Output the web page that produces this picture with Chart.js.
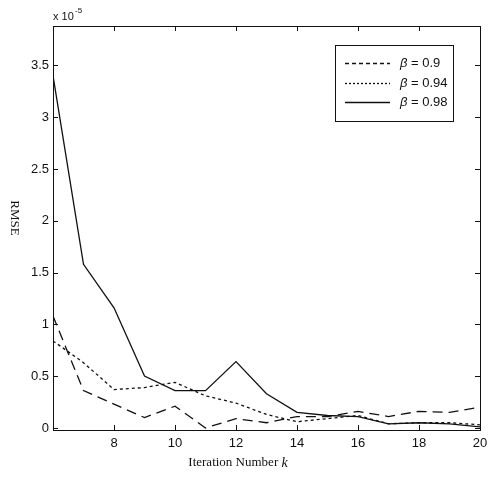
<!DOCTYPE html>
<html>
<head>
<meta charset="utf-8">
<script src="https://cdn.jsdelivr.net/npm/chart.js@4/dist/chart.umd.min.js"></script>
<style>
  html, body { margin: 0; padding: 0; background: #fff; }
  #wrap { width: 488px; height: 479px; position: relative; }
</style>
</head>
<body>
<div id="wrap"><canvas id="c"></canvas></div>
<script>
// iteration index k
const iterations = [6, 7, 8, 9, 10, 11, 12, 13, 14, 15, 16, 17, 18, 19, 20];
// RMSE in units of 1e-5
const rmseBeta090 = [1.08, 0.36, 0.23, 0.10, 0.21, 0.00, 0.09, 0.05, 0.11, 0.11, 0.16, 0.11, 0.16, 0.15, 0.20];
const rmseBeta094 = [0.84, 0.63, 0.37, 0.39, 0.44, 0.31, 0.24, 0.13, 0.06, 0.09, 0.12, 0.04, 0.05, 0.05, 0.03];
const rmseBeta098 = [3.40, 1.58, 1.16, 0.50, 0.36, 0.36, 0.64, 0.33, 0.15, 0.12, 0.11, 0.04, 0.05, 0.04, 0.01];
const seriesLabels = ['0.9', '0.94', '0.98'];
const xTicks = [8, 10, 12, 14, 16, 18, 20];
const yTicks = [0, 0.5, 1, 1.5, 2, 2.5, 3, 3.5];

const INK = '#111';
const SANS = '"Liberation Sans", Arial, sans-serif';
const SERIF = '"Liberation Serif", "Times New Roman", serif';

const toPoints = (ys) => ys.map((y, i) => ({ x: iterations[i], y }));

const lineStyles = [
  { dash: [10, 6], legendDash: [4, 3] },
  { dash: [3, 3], legendDash: [2, 2] },
  { dash: [], legendDash: [] },
];

const datasets = [rmseBeta090, rmseBeta094, rmseBeta098].map((ys, i) => ({
  label: seriesLabels[i],
  data: toPoints(ys),
  borderColor: INK,
  borderWidth: 1.3,
  borderDash: lineStyles[i].dash,
  pointRadius: 0,
  tension: 0,
  fill: false,
}));

// box frame, inward ticks on all four sides, legend and axis texts
const matlabAxes = {
  id: 'matlabAxes',
  afterDraw(chart) {
    const { ctx, chartArea: a, scales } = chart;
    const tick = 5;
    ctx.save();
    ctx.strokeStyle = INK;
    ctx.lineWidth = 1;
    ctx.setLineDash([]);
    ctx.strokeRect(a.left + 0.5, a.top + 0.5, a.right - a.left, a.bottom - a.top);
    ctx.beginPath();
    for (const v of xTicks) {
      const px = Math.round(scales.x.getPixelForValue(v)) + 0.5;
      ctx.moveTo(px, a.bottom); ctx.lineTo(px, a.bottom - tick);
      ctx.moveTo(px, a.top); ctx.lineTo(px, a.top + tick);
    }
    for (const v of yTicks) {
      const py = Math.round(scales.y.getPixelForValue(v)) + 0.5;
      ctx.moveTo(a.left, py); ctx.lineTo(a.left + tick, py);
      ctx.moveTo(a.right, py); ctx.lineTo(a.right - tick, py);
    }
    ctx.stroke();

    // exponent
    ctx.fillStyle = INK;
    ctx.textBaseline = 'alphabetic';
    ctx.textAlign = 'left';
    ctx.font = '11px ' + SANS;
    ctx.fillText('x 10', a.left, a.top - 6);
    ctx.font = '8px ' + SANS;
    ctx.fillText('-5', a.left + 22, a.top - 13);

    // y label, reading top to bottom
    ctx.save();
    ctx.translate(14, 218);
    ctx.rotate(Math.PI / 2);
    ctx.font = '13px ' + SERIF;
    ctx.textAlign = 'center';
    ctx.textBaseline = 'middle';
    ctx.fillText('RMSE', 0, 0);
    ctx.restore();

    // x label
    ctx.font = '13px ' + SERIF;
    ctx.textAlign = 'left';
    ctx.textBaseline = 'middle';
    const xl = 'Iteration Number ';
    const xlw = ctx.measureText(xl).width;
    ctx.font = 'italic 14px ' + SERIF;
    const kw = ctx.measureText('k').width;
    const x0 = 238 - (xlw + kw) / 2;
    ctx.font = '13px ' + SERIF;
    ctx.fillText(xl, x0, 463);
    ctx.font = 'italic 14px ' + SERIF;
    ctx.fillText('k', x0 + xlw, 463);

    // legend
    const box = { l: 335, t: 45, r: 453, b: 121 };
    ctx.fillStyle = '#fff';
    ctx.fillRect(box.l, box.t, box.r - box.l, box.b - box.t);
    ctx.strokeStyle = INK;
    ctx.strokeRect(box.l + 0.5, box.t + 0.5, box.r - box.l, box.b - box.t);
    const rows = [63, 83, 102];
    chart.data.datasets.forEach((ds, i) => {
      const y = rows[i] + 0.5;
      ctx.setLineDash(lineStyles[i].legendDash);
      ctx.lineWidth = 1.3;
      ctx.beginPath();
      ctx.moveTo(345, y);
      ctx.lineTo(390, y);
      ctx.stroke();
      ctx.setLineDash([]);
      ctx.fillStyle = INK;
      ctx.textBaseline = 'middle';
      ctx.font = 'italic 13px ' + SANS;
      ctx.fillText('\u03B2', 400, rows[i]);
      const bw = ctx.measureText('\u03B2').width;
      ctx.font = '13px ' + SANS;
      ctx.fillText(' = ' + ds.label, 400 + bw, rows[i]);
    });
    ctx.restore();
  },
};

new Chart(document.getElementById('c'), {
  type: 'line',
  data: { datasets },
  options: {
    animation: false,
    responsive: true,
    maintainAspectRatio: false,
    layout: { padding: { left: 0, right: 8, top: 26, bottom: 0 } },
    plugins: {
      legend: { display: false },
      tooltip: { enabled: false },
    },
    scales: {
      x: {
        type: 'linear',
        min: 6,
        max: 20,
        afterBuildTicks: (s) => { s.ticks = xTicks.map((v) => ({ value: v })); },
        afterFit: (s) => {
          s.height = 49;
          s.paddingLeft = 0;
          s.paddingRight = 0;
        },
        ticks: {
          color: INK,
          font: { family: SANS, size: 13 },
          padding: 6,
          maxRotation: 0,
          callback: (v) => String(v),
        },
        grid: { display: false, drawTicks: false },
        border: { display: false },
      },
      y: {
        min: -0.02,
        max: 3.88,
        afterBuildTicks: (s) => { s.ticks = yTicks.map((v) => ({ value: v })); },
        afterFit: (s) => {
          s.width = 53;
          s.paddingTop = 0;
          s.paddingBottom = 0;
        },
        ticks: {
          color: INK,
          font: { family: SANS, size: 13 },
          padding: 4,
          callback: (v) => String(v),
        },
        grid: { display: false, drawTicks: false },
        border: { display: false },
      },
    },
  },
  plugins: [matlabAxes],
});
</script>
</body>
</html>
